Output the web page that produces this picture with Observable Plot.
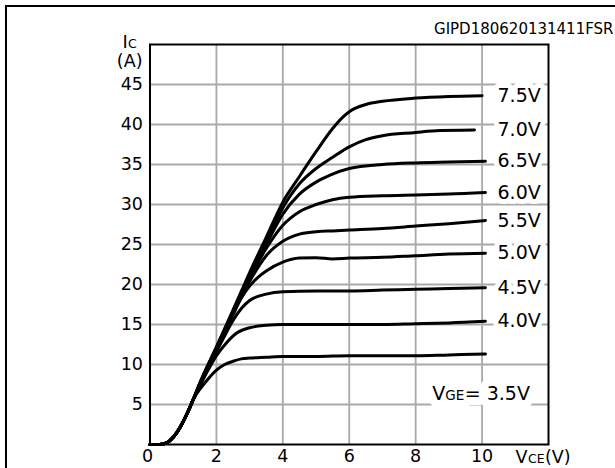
<!DOCTYPE html>
<html><head><meta charset="utf-8">
<script src="https://cdn.jsdelivr.net/npm/d3@7"></script>
<script src="https://cdn.jsdelivr.net/npm/@observablehq/plot@0.6"></script>
<style>
html,body{margin:0;padding:0;background:#fff;}
#wrap{position:relative;width:615px;height:468px;overflow:hidden;background:#fff;}
#border{position:absolute;left:5px;top:5px;width:700px;height:600px;border-top:2.5px solid #000;border-left:2.5px solid #000;box-sizing:border-box;}
#chart{position:absolute;left:0;top:0;}
svg text{font-family:"DejaVu Sans",sans-serif;}
</style></head><body>
<div id="wrap"><div id="chart"></div><div id="border"></div></div>
<script>
// V_GE labels (one per curve, bottom to top)
const vgeLabels = ["3.5V","4.0V","4.5V","5.0V","5.5V","6.0V","6.5V","7.0V","7.5V"];
// shared start of all curves: [VCE (V), IC (A)]
const base = [[0,0],[0.3,0],[0.5,0.2],[0.7,0.9],[0.9,2.1],[1.1,3.7],[1.3,5.6]];
const c35 = [[1.5,6.9],[1.75,8.2],[2.0,9.3],[2.25,10.0],[2.5,10.4],[2.75,10.7],[3,10.8],[3.5,10.9],[4,11.0],[5,11.0],[6,11.1],[7,11.1],[8,11.1],[9,11.2],[10.1,11.3]];
const c40 = [[1.5,7.3],[1.75,9.3],[2.0,11.1],[2.3,12.7],[2.6,13.9],[3,14.6],[3.5,14.9],[4,15.0],[5,15.0],[6,15.0],[7,15.0],[8,15.1],[9,15.2],[10.1,15.4]];
const c45 = [[1.5,7.4],[2.0,11.6],[2.25,13.6],[2.5,15.5],[2.75,17.0],[3,18.0],[3.5,18.8],[4,19.1],[5,19.2],[6,19.2],[7,19.3],[8,19.4],[9,19.5],[10.1,19.6]];
const c50 = [[1.5,7.5],[2.0,11.8],[2.5,16.2],[2.75,18.3],[3,19.8],[3.25,20.9],[3.5,21.7],[4,22.8],[4.5,23.3],[5,23.35],[5.5,23.2],[6,23.3],[7,23.4],[8,23.6],[9,23.8],[10.1,23.9]];
const c55 = [[1.5,7.5],[2.0,12.0],[2.5,16.4],[3,20.4],[3.5,23.6],[4,25.4],[4.5,26.3],[5,26.6],[5.5,26.7],[6,26.8],[7,27.0],[8,27.3],[9,27.6],[10.1,28.0]];
const c60 = [[1.5,7.6],[2.0,12.0],[2.5,16.5],[3,20.8],[3.5,24.5],[4,27.4],[4.5,29.1],[5,30.0],[5.5,30.6],[6,30.9],[7,31.1],[8,31.2],[9,31.3],[10.1,31.5]];
const c65 = [[1.5,7.6],[2.0,12.1],[2.5,16.6],[3,21.0],[3.5,25.0],[4,28.8],[4.5,31.3],[5,32.8],[5.44,33.7],[6,34.5],[7,35.0],[8,35.2],[9,35.3],[10.1,35.4]];
const c70 = [[1.5,7.6],[2.0,12.1],[2.5,16.7],[3,21.2],[3.5,25.4],[4,29.6],[4.5,32.6],[5,34.5],[5.5,35.9],[6,37.2],[6.5,38.1],[7,38.6],[8,39.0],[8.5,39.2],[9.77,39.3]];
const c75 = [[1.5,7.7],[2.0,12.2],[2.5,16.8],[3,21.5],[3.5,25.9],[4,30.3],[4.5,33.5],[5,36.6],[5.5,39.5],[5.8,40.9],[6.0,41.6],[6.5,42.5],[7,42.9],[8,43.3],[9,43.5],[10,43.6]];
const xTicks = [2,4,6,8,10];
const yTicks = [5,10,15,20,25,30,35,40,45];
const figId = "GIPD180620131411FSR";
const vgeNote = {vce: 8.5, ic: 6.4, label: "3.5V"};

const curves = [c35,c40,c45,c50,c55,c60,c65,c70,c75];
const rows = curves.flatMap((pts, i) => base.concat(pts).map(([vce, ic]) => ({vge: vgeLabels[i], vce, ic})));
const endLabels = curves.map((pts, i) => ({label: vgeLabels[i], ic: pts[pts.length - 1][1]})).slice(1);

const ff = "DejaVu Sans";
// halo pass (white knock-out) then text pass
function haloText(data, opts, width) {
  return [
    Plot.text(data, {...opts, fill: "white", stroke: "white", strokeWidth: width, strokeLinejoin: "round"}),
    Plot.text(data, {...opts, fill: "black"})
  ];
}
const noteParts = [
  {text: d => "V", dx: 0, fontSize: 19},
  {text: d => "GE", dx: 13, fontSize: 13.5},
  {text: d => "= " + d.label, dx: 32.5, fontSize: 19}
].map(p => ({x: "vce", y: "ic", textAnchor: "start", lineAnchor: "bottom", dy: 7, ...p}));

const chart = Plot.plot({
  width: 615, height: 468,
  marginLeft: 149.5, marginRight: 67, marginTop: 44, marginBottom: 24,
  x: {domain: [0, 12]},
  y: {domain: [0, 50]},
  style: {fontFamily: ff, background: "transparent", overflow: "visible", color: "black"},
  marks: [
    Plot.ruleX(xTicks, {stroke: "#a9a9a9", strokeWidth: 1.8}),
    Plot.ruleY(yTicks, {stroke: "#a9a9a9", strokeWidth: 1.8}),
    Plot.line(rows, {x: "vce", y: "ic", z: "vge", stroke: "black", strokeWidth: 3, curve: "monotone-x"}),
    ...haloText(endLabels, {y: "ic", text: "label", frameAnchor: "right", textAnchor: "start", dx: -51, fontSize: 19}, 10),
    // V_GE = 3.5V note: halos first, then texts
    ...noteParts.map(p => Plot.text([vgeNote], {...p, fill: "white", stroke: "white", strokeWidth: 16, strokeLinejoin: "round"})),
    ...noteParts.map(p => Plot.text([vgeNote], {...p, fill: "black"})),
    Plot.frame({stroke: "black", strokeWidth: 2}),
    Plot.axisY(yTicks, {tickSize: 0, tickPadding: 7, fontSize: 17.5, label: null}),
    Plot.axisX(xTicks, {tickSize: 0, tickPadding: 5, fontSize: 17.5, label: null}),
    Plot.text(["0"], {frameAnchor: "bottom-left", lineAnchor: "top", dx: -8, dy: 5, fontSize: 17.5}),
    // axis titles
    Plot.text(["I"], {frameAnchor: "top-left", textAnchor: "start", lineAnchor: "bottom", dx: -27.5, dy: 3, fontSize: 18}),
    Plot.text(["C"], {frameAnchor: "top-left", textAnchor: "start", lineAnchor: "bottom", dx: -22, dy: 3, fontSize: 12.5}),
    Plot.text(["(A)"], {frameAnchor: "top-left", textAnchor: "end", lineAnchor: "bottom", dx: -7.5, dy: 22, fontSize: 17.5}),
    Plot.text(["V"], {frameAnchor: "bottom-right", textAnchor: "start", lineAnchor: "bottom", dx: -33, dy: 18, fontSize: 17.5}),
    Plot.text(["CE"], {frameAnchor: "bottom-right", textAnchor: "start", lineAnchor: "bottom", dx: -20.5, dy: 18, fontSize: 12.5}),
    Plot.text(["(V)"], {frameAnchor: "bottom-right", textAnchor: "start", lineAnchor: "bottom", dx: -3.5, dy: 18, fontSize: 17.5}),
    Plot.text([figId], {frameAnchor: "top-right", textAnchor: "end", lineAnchor: "middle", dx: 65, dy: -15, fontSize: 15})
  ]
});
document.getElementById("chart").appendChild(chart);
</script>
</body></html>
